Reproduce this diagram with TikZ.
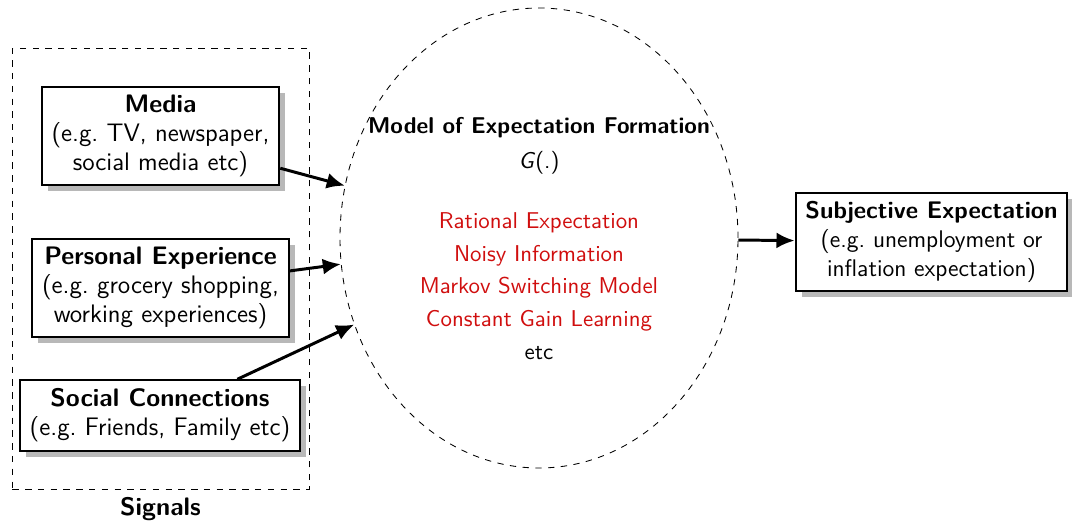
\documentclass[tikz,border=0pt]{standalone}
\usetikzlibrary{shapes.geometric,shadows,arrows.meta}
\renewcommand{\familydefault}{\sfdefault}
\definecolor{modelred}{RGB}{208,14,14}
\tikzset{
  srcbox/.style={draw, line width=0.95pt, fill=white, align=center,
    inner xsep=4.6pt, inner ysep=4pt,
    font=\fontsize{11.9}{13.6}\selectfont,
    drop shadow={shadow xshift=2.8pt, shadow yshift=-2.8pt, fill=black!28, opacity=1}},
  flow/.style={-{Latex[length=8.5pt,width=7.5pt]}, line width=1.4pt},
  frame/.style={draw, dashed, line width=0.4pt},
}
\begin{document}
\begin{tikzpicture}[x=0.47pt, y=-0.47pt]
\useasboundingbox (0,0) rectangle (1072,522);

% signals frame
\node[frame, minimum width=297*0.47pt, minimum height=441*0.47pt, inner sep=0, anchor=north west] (signals) at (12,48) {};
\node[font=\fontsize{11.9}{13.6}\selectfont\bfseries] (signalslbl) at (160.5,509) {Signals};

% signal sources
\node[srcbox] (media) at (160.5,136) {\textbf{Media}\\(e.g.\ TV, newspaper,\\social media etc)};
\node[srcbox] (personal) at (160.5,288) {\textbf{Personal Experience}\\(e.g.\ grocery shopping,\\working experiences)};
\node[srcbox] (social) at (160,415.5) {\textbf{Social Connections}\\(e.g.\ Friends, Family etc)};

% expectation model
\node[ellipse, frame, minimum width=398*0.47pt, minimum height=460*0.47pt, inner sep=0] (model) at (539,238) {};
\node[anchor=north, align=center, inner sep=0, font=\fontsize{10.75}{15.4}\selectfont] (modeltxt) at (539,117)
  {\textbf{Model of Expectation Formation}\\[1pt]\textit{G}(.)\\[12.8pt]
   \textcolor{modelred}{Rational Expectation}\\
   \textcolor{modelred}{Noisy Information}\\
   \textcolor{modelred}{Markov Switching Model}\\
   \textcolor{modelred}{Constant Gain Learning}\\
   etc};

% outcome
\node[srcbox, font=\fontsize{11.3}{13.6}\selectfont] (subj) at (931.5,242) {\textbf{Subjective Expectation}\\(e.g.\ unemployment or\\inflation expectation)};

% connectors
\draw[flow] (media) -- (model);
\draw[flow] (personal) -- (model);
\draw[flow] (social) -- (model);
\draw[flow] (model) -- (subj);
\end{tikzpicture}
\end{document}
